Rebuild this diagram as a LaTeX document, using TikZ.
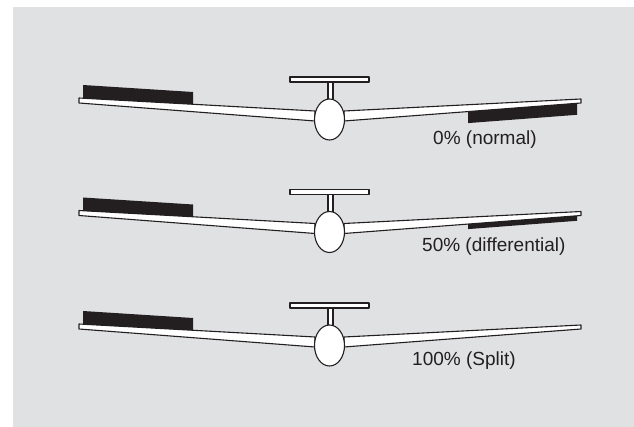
\documentclass[tikz,border=0pt]{standalone}
\usepackage{fontspec}
\setmainfont{Liberation Sans}
\definecolor{panel}{HTML}{E0E1E3}
\definecolor{ink}{HTML}{231F20}
\tikzset{
  part/.style={draw=ink,fill=white,line width=1.1pt,line join=round},
  aileron/.style={fill=ink},
  mixlabel/.style={anchor=west,inner sep=0pt,text=ink,font=\fontsize{19}{22}\selectfont}
}
\begin{document}
\begin{tikzpicture}[x=1pt,y=-1pt]
  \useasboundingbox (0,0) rectangle (634,427);
  \fill[panel] (13,7) rectangle (634,427);
  % one glider per aileron setting: offset / depth of the right aileron
  \foreach \dy/\flap in {0/11.5,112.5/5,226/0}{
    \begin{scope}[yshift=-\dy pt]
      % wings
      \draw[part] (79,98)--(315,111)--(315,121)--(79,103)--cycle;
      \draw[part] (344,111)--(581,99)--(581,103)--(344,121)--cycle;
      % ailerons
      \fill[aileron] (83,98.2)--(83,85)--(193,92)--(193,104.3)--cycle;
      \fill[aileron] (468,111.6)--(577,103.3)--(577,103.3+\flap)--(468,111.6+\flap)--cycle;
      % tail and fuselage
      \draw[part] (328,81)rectangle(333,101);
      \draw[part] (290,77)rectangle(369,82);
      \draw[part] (329.5,119.5) ellipse [x radius=15pt,y radius=20.5pt];
    \end{scope}
  }
  \node[mixlabel] (normal) at (433,140) {0\% (normal)};
  \node[mixlabel] (diff) at (422,247) {50\% (differential)};
  \node[mixlabel] (split) at (412,361) {100\% (Split)};
\end{tikzpicture}
\end{document}
